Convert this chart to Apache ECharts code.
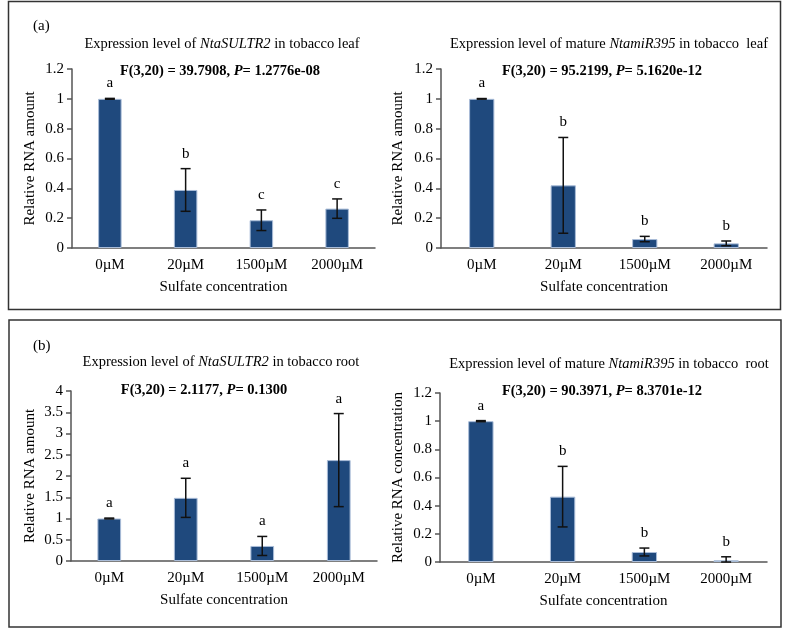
<!DOCTYPE html>
<html>
<head>
<meta charset="utf-8">
<script src="https://cdn.jsdelivr.net/npm/echarts@6/dist/echarts.min.js"></script>
<style>
  html, body { margin: 0; padding: 0; background: #fff; }
  #chart { width: 787px; height: 630px; }
</style>
</head>
<body>
<div id="chart"></div>
<script>
// categories shared by all four panels
const categories = ['0µM', '20µM', '1500µM', '2000µM']

// (a) leaf, NtaSULTR2
const leafSultrMean = [1.0, 0.389, 0.186, 0.264]
const leafSultrErr = [0.003, 0.143, 0.069, 0.065]
const leafSultrLetters = ['a', 'b', 'c', 'c']

// (a) leaf, mature NtamiR395
const leafMirMean = [1.0, 0.42, 0.06, 0.031]
const leafMirErr = [0.002, 0.321, 0.018, 0.016]
const leafMirLetters = ['a', 'b', 'b', 'b']

// (b) root, NtaSULTR2
const rootSultrMean = [1.0, 1.486, 0.354, 2.374]
const rootSultrErr = [0.01, 0.46, 0.224, 1.095]
const rootSultrLetters = ['a', 'a', 'a', 'a']

// (b) root, mature NtamiR395
const rootMirMean = [1.0, 0.464, 0.071, 0.012]
const rootMirErr = [0.004, 0.215, 0.028, 0.025]
const rootMirLetters = ['a', 'b', 'b', 'b']

const FONT = '"Liberation Serif", "Times New Roman", serif'
const barColor = '#1f497d'

let chart = echarts.init(document.getElementById('chart'))

// error bar + significance letter drawn above the bar
function errSeries (idx, mean, err, letters) {
  return {
    type: 'custom',
    xAxisIndex: idx,
    yAxisIndex: idx,
    z: 5,
    data: mean.map((m, i) => [i, m, err[i]]),
    renderItem: function (params, api) {
      let x = api.value(0)
      let m = api.value(1)
      let e = api.value(2)
      let top = api.coord([x, m + e])
      let bot = api.coord([x, Math.max(m - e, 0)])
      let half = 5
      let s = { stroke: '#111', lineWidth: 1.5 }
      return {
        type: 'group',
        children: [
          { type: 'line', shape: { x1: top[0], y1: top[1], x2: bot[0], y2: bot[1] }, style: s },
          { type: 'line', shape: { x1: top[0] - half, y1: top[1], x2: top[0] + half, y2: top[1] }, style: s },
          { type: 'line', shape: { x1: bot[0] - half, y1: bot[1], x2: bot[0] + half, y2: bot[1] }, style: s },
          {
            type: 'text',
            style: {
              text: letters[params.dataIndex],
              x: top[0],
              y: top[1] - 15,
              align: 'center',
              verticalAlign: 'middle',
              font: '15px ' + FONT,
              fill: '#000'
            }
          }
        ]
      }
    }
  }
}

function barSeries (idx, mean) {
  return {
    type: 'bar',
    xAxisIndex: idx,
    yAxisIndex: idx,
    barWidth: '31%',
    data: mean,
    itemStyle: { color: barColor, borderColor: '#a9bcd8', borderWidth: 1 }
  }
}

function xAxisOf (idx) {
  return {
    type: 'category',
    gridIndex: idx,
    data: categories,
    name: 'Sulfate concentration',
    nameLocation: 'middle',
    nameGap: 32,
    nameTextStyle: { fontFamily: FONT, fontSize: 15, color: '#000' },
    axisLine: { lineStyle: { color: '#555', width: 1.5 } },
    axisTick: { show: false },
    axisLabel: { margin: 10, fontFamily: FONT, fontSize: 15, color: '#000' }
  }
}

function yAxisOf (idx, max, interval, name, gap) {
  return {
    type: 'value',
    gridIndex: idx,
    min: 0,
    max: max,
    interval: interval,
    name: name,
    nameLocation: 'middle',
    nameGap: gap,
    nameTextStyle: { fontFamily: FONT, fontSize: 15, color: '#000' },
    splitLine: { show: false },
    axisLine: { show: true, lineStyle: { color: '#555', width: 1.5 } },
    axisTick: { show: true, length: 5, lineStyle: { color: '#555', width: 1.5 } },
    axisLabel: { margin: 8, fontFamily: FONT, fontSize: 15, color: '#000' }
  }
}

function titleOf (text, x, y, bold) {
  return {
    text: text,
    left: x,
    top: y,
    textAlign: 'center',
    textVerticalAlign: 'middle',
    padding: 0,
    textStyle: {
      fontFamily: FONT,
      fontSize: bold ? 14.5 : 14.5,
      fontWeight: bold ? 'bold' : 'normal',
      color: '#000',
      rich: {
        i: { fontFamily: FONT, fontSize: 14.5, fontStyle: 'italic', color: '#000' },
        bi: { fontFamily: FONT, fontSize: 14.5, fontStyle: 'italic', fontWeight: 'bold', color: '#000' },
        b: { fontFamily: FONT, fontSize: 14.5, fontWeight: 'bold', color: '#000' }
      }
    }
  }
}

let option = {
  backgroundColor: '#fff',
  animation: false,
  title: [
    titleOf('Expression level of {i|NtaSULTR2} in tobacco leaf', 222, 44),
    titleOf('{b|F(3,20) = 39.7908, }{bi|P}{b|= 1.2776e-08}', 220, 71, true),
    titleOf('Expression level of mature {i|NtamiR395} in tobacco  leaf', 609, 44),
    titleOf('{b|F(3,20) = 95.2199, }{bi|P}{b|= 5.1620e-12}', 602, 71, true),
    titleOf('Expression level of {i|NtaSULTR2} in tobacco root', 221, 362),
    titleOf('{b|F(3,20) = 2.1177, }{bi|P}{b|= 0.1300}', 204, 390, true),
    titleOf('Expression level of mature {i|NtamiR395} in tobacco  root', 609, 364),
    titleOf('{b|F(3,20) = 90.3971, }{bi|P}{b|= 8.3701e-12}', 602, 391, true)
  ],
  grid: [
    { left: 72, top: 69, width: 303, height: 179 },
    { left: 441, top: 69, width: 326, height: 179 },
    { left: 71, top: 391, width: 306, height: 170 },
    { left: 440, top: 393, width: 327, height: 169 }
  ],
  xAxis: [xAxisOf(0), xAxisOf(1), xAxisOf(2), xAxisOf(3)],
  yAxis: [
    yAxisOf(0, 1.2, 0.2, 'Relative RNA amount', 34),
    yAxisOf(1, 1.2, 0.2, 'Relative RNA amount', 35),
    yAxisOf(2, 4, 0.5, 'Relative RNA amount', 33),
    yAxisOf(3, 1.2, 0.2, 'Relative RNA concentration', 34)
  ],
  series: [
    barSeries(0, leafSultrMean), errSeries(0, leafSultrMean, leafSultrErr, leafSultrLetters),
    barSeries(1, leafMirMean), errSeries(1, leafMirMean, leafMirErr, leafMirLetters),
    barSeries(2, rootSultrMean), errSeries(2, rootSultrMean, rootSultrErr, rootSultrLetters),
    barSeries(3, rootMirMean), errSeries(3, rootMirMean, rootMirErr, rootMirLetters)
  ],
  graphic: [
    // panel frames
    { type: 'rect', shape: { x: 8.5, y: 1.5, width: 772, height: 308 }, style: { fill: 'none', stroke: '#333', lineWidth: 1.5 }, silent: true },
    { type: 'rect', shape: { x: 9, y: 320, width: 772, height: 307 }, style: { fill: 'none', stroke: '#333', lineWidth: 1.5 }, silent: true },
    { type: 'text', left: 33, top: 19, style: { text: '(a)', font: '15px ' + FONT, fill: '#000' } },
    { type: 'text', left: 33, top: 339, style: { text: '(b)', font: '15px ' + FONT, fill: '#000' } }
  ]
}

chart.setOption(option)
window.addEventListener('resize', function () {
  chart.resize()
})
</script>
</body>
</html>
